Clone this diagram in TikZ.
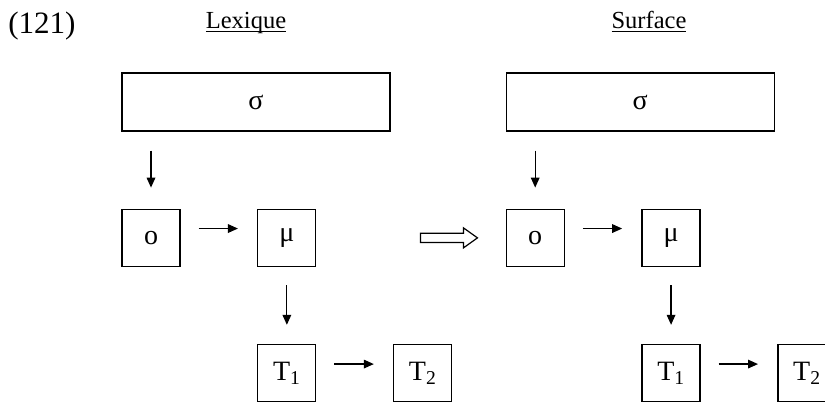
\documentclass[tikz,border=0pt]{standalone}
\usepackage{fontspec}
\setmainfont{Liberation Serif}
\usetikzlibrary{positioning,arrows.meta,calc}
\newcommand\lineunder[1]{\setbox0\hbox{#1}\rlap{\rule[-0.17em]{\wd0}{0.06em}}\box0}

\begin{document}
\begin{tikzpicture}[
    font=\fontsize{21}{25}\selectfont,
    tier/.style={draw=black, line width=0.9pt, minimum width=201pt, minimum height=43.5pt, inner sep=0pt},
    cell/.style={draw=black, line width=0.9pt, minimum width=43.5pt, minimum height=43pt, inner sep=0pt},
    flow/.style={-{Triangle[length=7.5pt,width=6.5pt]}, line width=0.9pt, shorten <=13.5pt, shorten >=14.5pt},
    head/.style={anchor=base, inner sep=0pt, font=\fontsize{18.4}{22}\selectfont},
]
  \useasboundingbox (0,0) rectangle (618.75pt,-300.75pt);
  %% headings
  \node[anchor=base west, inner sep=0pt, font=\fontsize{23.3}{28}\selectfont] (num) at (6pt,-24.75pt) {(121)};
  \node[head] (lex) at (184.5pt,-21pt) {\lineunder{Lexique}};
  \node[head] (surf) at (486.75pt,-21pt) {\lineunder{Surface}};
  %% lexical side
  \node[tier] (lsig) at (192pt,-76.5pt) {σ};
  \node[cell, below=57.75pt of lsig.south west, anchor=north west] (lo) {o};
  \node[cell, right=57.5pt of lo] (lmu) {μ};
  \node[cell, below=57.75pt of lmu] (lta) {T\textsubscript{1}};
  \node[cell, right=57.5pt of lta] (ltb) {T\textsubscript{2}};
  \draw[flow, shorten <=14.25pt, shorten >=15.75pt] (lsig.south -| lo.north) -- (lo.north);
  \draw[flow] ([yshift=7pt]lo.east) -- ([yshift=7pt]lmu.west);
  \draw[flow] (lmu.south) -- (lta.north);
  \draw[flow] ([yshift=7pt]lta.east) -- ([yshift=7pt]ltb.west);
  %% surface side
  \node[tier, right=86.25pt of lsig] (rsig) {σ};
  \node[cell, below=57.75pt of rsig.south west, anchor=north west] (ro) {o};
  \node[cell, right=57.5pt of ro] (rmu) {μ};
  \node[cell, below=57.75pt of rmu] (rta) {T\textsubscript{1}};
  \node[cell, right=57.5pt of rta] (rtb) {T\textsubscript{2}};
  \draw[flow, shorten <=14.25pt, shorten >=15.75pt] (rsig.south -| ro.north) -- (ro.north);
  \draw[flow] ([yshift=7pt]ro.east) -- ([yshift=7pt]rmu.west);
  \draw[flow] (rmu.south) -- (rta.north);
  \draw[flow] ([yshift=7pt]rta.east) -- ([yshift=7pt]rtb.west);
  %% hollow arrow between the two levels
  \coordinate (imp) at ($(lmu.east)+(78pt,0)$);
  \draw[line width=0.9pt, line join=miter] (imp) ++(0,3.4pt) -- ++(32.25pt,0) -- ++(0,4.1pt)
        -- ++(10.5pt,-7.5pt) -- ++(-10.5pt,-7.5pt) -- ++(0,4.1pt) -- ++(-32.25pt,0) -- cycle;
\end{tikzpicture}
\end{document}
